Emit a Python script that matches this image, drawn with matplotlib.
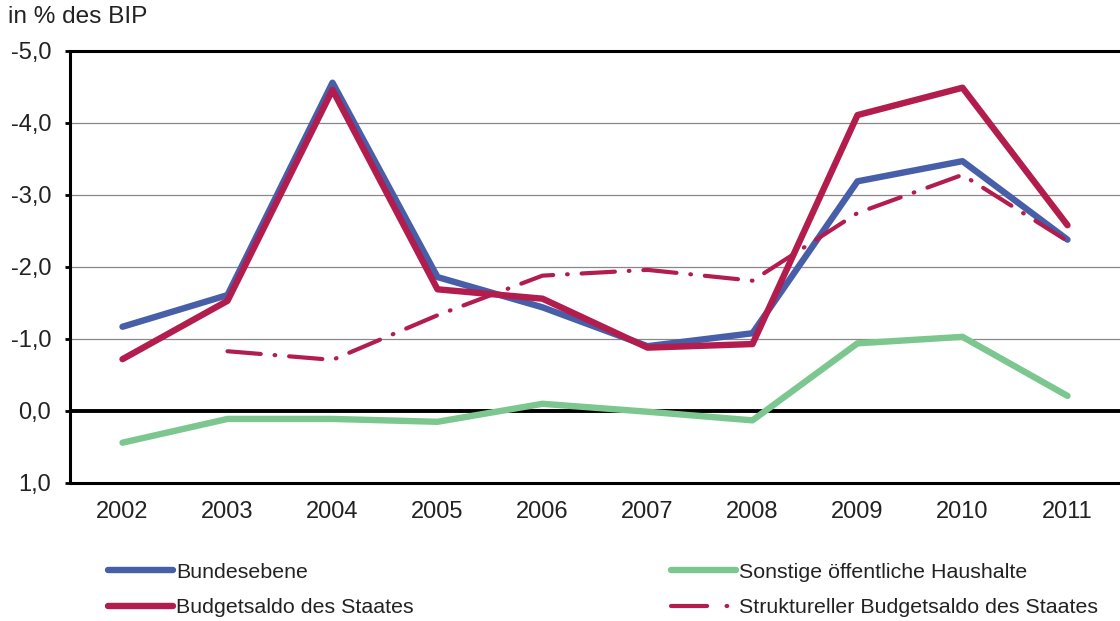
import matplotlib
matplotlib.use("Agg")
import matplotlib.pyplot as plt
from matplotlib.lines import Line2D

plt.rcParams['font.family'] = ['Liberation Sans', 'DejaVu Sans']
plt.rcParams['lines.scale_dashes'] = False

years = ['2002', '2003', '2004', '2005', '2006', '2007', '2008', '2009', '2010', '2011']
bund = [-1.17, -1.61, -4.56, -1.86, -1.44, -0.90, -1.08, -3.19, -3.47, -2.38]
staat = [-0.72, -1.53, -4.46, -1.69, -1.56, -0.88, -0.93, -4.11, -4.49, -2.58]
struktur = [None, -0.83, -0.71, -1.33, -1.88, -1.96, -1.81, -2.75, -3.28, -2.36]
sonstige = [0.44, 0.11, 0.11, 0.15, -0.10, 0.01, 0.13, -0.94, -1.03, -0.21]
yticks = [-5, -4, -3, -2, -1, 0, 1]

c_blue = '#475ea8'
c_red = '#b21d4e'
c_green = '#7cc790'
fs = 17
fs_leg = 15.4
dd = (24, 10, 0.5, 10)

fig = plt.figure(figsize=(11.2, 6.21), dpi=100)
ax = fig.add_axes([70 / 1120, 1 - 483 / 621, 1 - 70 / 1120, 432 / 621])

x = list(range(len(years)))
for yv in [-4, -3, -2, -1]:
    ax.axhline(yv, color='#888888', lw=0.9, zorder=1)
ax.axhline(0, color='black', lw=2.8, zorder=2)

ax.plot(x, bund, color=c_blue, lw=4.6, solid_capstyle='round', zorder=3)
ax.plot(x, sonstige, color=c_green, lw=4.6, solid_capstyle='round', zorder=3)
ax.plot(x, staat, color=c_red, lw=4.6, solid_capstyle='round', zorder=4)
xs = [i for i, v in zip(x, struktur) if v is not None]
ys = [v for v in struktur if v is not None]
ax.plot(xs, ys, color=c_red, lw=3.0, dashes=dd, dash_capstyle='round', zorder=4)

ax.set_xlim(-0.5, len(years) - 0.5)
ax.set_ylim(1, -5)
ax.set_yticks(yticks)
ax.set_yticklabels([f'{v:.1f}'.replace('.', ',') for v in yticks])
ax.set_xticks(x)
ax.set_xticklabels(years)
ax.tick_params(axis='x', length=0, pad=13, labelsize=fs)
ax.tick_params(axis='y', length=3.5, width=2, pad=10, labelsize=fs, color='black')
for lab in ax.get_xticklabels() + ax.get_yticklabels():
    lab.set_color('#222222')
for s in ['left', 'top', 'bottom']:
    ax.spines[s].set_linewidth(2.2)
    ax.spines[s].set_color('black')
ax.spines['right'].set_visible(False)

fig.text(8 / 1120, 1 - 17 / 621, 'in % des BIP', fontsize=17.6, color='#222222', va='center')

h_bund = Line2D([], [], color=c_blue, lw=4.6, solid_capstyle='round')
h_staat = Line2D([], [], color=c_red, lw=4.6, solid_capstyle='round')
h_sonst = Line2D([], [], color=c_green, lw=4.6, solid_capstyle='round')
h_struk = Line2D([], [], color=c_red, lw=3.0, dashes=(26, 14, 0.5, 10), dash_capstyle='round')

legs = [
    ([h_bund, h_staat], ['Bundesebene', 'Budgetsaldo des Staates'], 108),
    ([h_sonst, h_struk], ['Sonstige öffentliche Haushalte', 'Struktureller Budgetsaldo des Staates'], 671),
]
for hs, ls, xpos in legs:
    leg = fig.legend(hs, ls, loc='center left', bbox_to_anchor=(xpos / 1120, 1 - 590 / 621),
                     frameon=False, fontsize=fs_leg, handlelength=3.05, handletextpad=0.12,
                     labelspacing=0.78, borderpad=0, borderaxespad=0)
    for t in leg.get_texts():
        t.set_color('#222222')

fig.savefig('out.png', dpi=100)
